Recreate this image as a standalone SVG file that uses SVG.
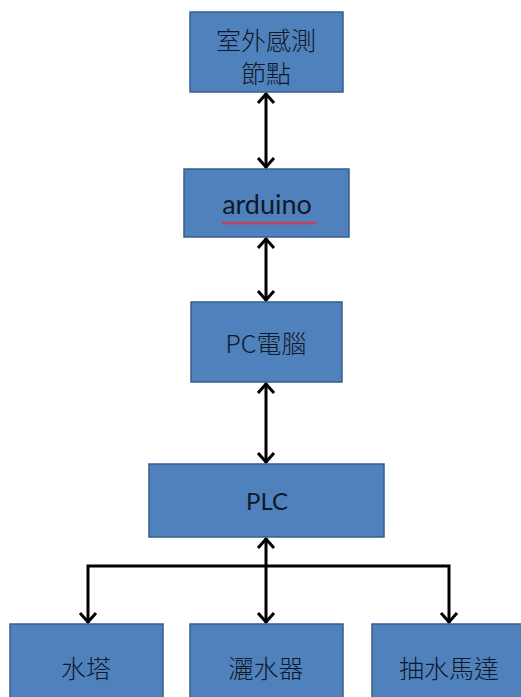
<svg xmlns="http://www.w3.org/2000/svg" width="521" height="697" viewBox="0 0 521 697">
  <style>
    .box { fill: #4F81BD; stroke: #385D8A; stroke-width: 1.5; }
    .lbl { font-family: Lato, "Liberation Sans", "Noto Sans CJK TC", sans-serif; font-size: 24px; fill: #111827; text-anchor: middle; dominant-baseline: central; }
    .cjk { font-family: "Noto Sans CJK TC", "Noto Sans CJK SC", sans-serif; font-size: 25px; font-weight: 300; }
    .wire { fill: none; stroke: #000; stroke-width: 3; }
  </style>
  <defs>
    <marker id="arr" markerUnits="userSpaceOnUse" markerWidth="24" markerHeight="24" viewBox="-12 -12 24 24" refX="1" refY="0" orient="auto-start-reverse">
      <path d="M-9,-8 L0,0 L-9,8" fill="none" stroke="#000" stroke-width="3"/>
    </marker>
  </defs>

  <g id="connectors">
    <path class="wire" d="M266,93 V168" marker-start="url(#arr)" marker-end="url(#arr)"/>
    <path class="wire" d="M266,238 V301" marker-start="url(#arr)" marker-end="url(#arr)"/>
    <path class="wire" d="M266,383 V463" marker-start="url(#arr)" marker-end="url(#arr)"/>
    <path class="wire" d="M266,538 V623" marker-start="url(#arr)" marker-end="url(#arr)"/>
    <path class="wire" d="M88,623 V566 H449 V623" marker-start="url(#arr)" marker-end="url(#arr)"/>
  </g>

  <g id="sensor-node">
    <rect class="box" x="190" y="12" width="153" height="80"/>
    <text class="lbl cjk" x="266" y="39">室外感測</text>
    <text class="lbl cjk" x="266" y="72">節點</text>
  </g>

  <g id="arduino">
    <rect class="box" x="184" y="169" width="165" height="68"/>
    <text class="lbl" x="267" y="203" style="font-size:27px">arduino</text>
    <path d="M222,222 l2,2 l2,-2 l2,2 l2,-2 l2,2 l2,-2 l2,2 l2,-2 l2,2 l2,-2 l2,2 l2,-2 l2,2 l2,-2 l2,2 l2,-2 l2,2 l2,-2 l2,2 l2,-2 l2,2 l2,-2 l2,2 l2,-2 l2,2 l2,-2 l2,2 l2,-2 l2,2 l2,-2 l2,2 l2,-2 l2,2 l2,-2 l2,2 l2,-2 l2,2 l2,-2 l2,2 l2,-2 l2,2 l2,-2 l2,2 l2,-2 l2,2 l2,-2 l2,2" fill="none" stroke="#E0303A" stroke-width="1.3"/>
  </g>

  <g id="pc">
    <rect class="box" x="191" y="302" width="151" height="80"/>
    <text class="lbl cjk" x="266" y="342">PC電腦</text>
  </g>

  <g id="plc">
    <rect class="box" x="149" y="464" width="235" height="73"/>
    <text class="lbl" x="267" y="500">PLC</text>
  </g>

  <g id="water-tower">
    <rect class="box" x="10" y="624" width="153" height="80"/>
    <text class="lbl cjk" x="86" y="667">水塔</text>
  </g>

  <g id="sprinkler">
    <rect class="box" x="190" y="624" width="153" height="80"/>
    <text class="lbl cjk" x="266" y="667">灑水器</text>
  </g>

  <g id="pump-motor">
    <rect class="box" x="372" y="624" width="153" height="80"/>
    <text class="lbl cjk" x="449" y="667">抽水馬達</text>
  </g>
</svg>
